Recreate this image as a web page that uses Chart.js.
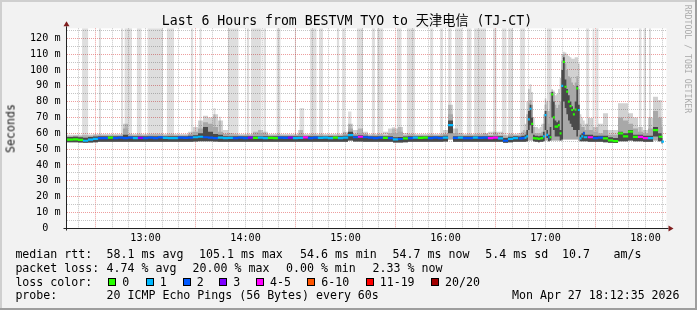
<!DOCTYPE html>
<html><head><meta charset="utf-8">
<script src="https://cdn.jsdelivr.net/npm/chart.js@4.4.1/dist/chart.umd.min.js"></script>
<style>
html,body{margin:0;padding:0;background:#f2f2f2;}
#wrap{position:relative;width:697px;height:310px;overflow:hidden;}
#c{position:absolute;left:0;top:0;}
.t{position:absolute;white-space:pre;font-family:"DejaVu Sans Mono","Noto Sans CJK SC",monospace;color:#000;}
.box{position:absolute;width:6px;height:6px;border:1px solid #000;}
</style></head>
<body><div id="wrap"><canvas id="c" width="697" height="310"></canvas></div>
<script>
// ---------------- DATA (minutes after 12:00) ----------------
const sampleMinutes = [
  12.6, 15, 18, 21, 24, 27, 30, 33, 36, 39, 42,
  45, 48, 51, 54, 57, 60, 63, 66, 69, 72,
  75, 78, 81, 84, 87, 90, 93, 96, 99, 102,
  105, 108, 111, 114, 117, 120, 123, 126, 129, 132,
  135, 138, 141, 144, 147, 150, 153, 156, 159, 162,
  165, 168, 171, 174, 177, 180, 183, 186, 189, 192,
  195, 198, 201, 204, 207, 210, 213, 216, 219, 222,
  225, 228, 231, 234, 237, 240, 243, 246, 249, 252,
  255, 258, 261, 264, 267, 270, 273, 276, 279, 282,
  285, 286, 287, 288, 289, 290, 291, 292, 293, 294, 295,
  296, 297, 298, 299, 300, 301, 302, 303, 304, 305,
  306, 307, 308, 309, 310, 311, 312, 313, 314, 315,
  316, 317, 318, 319, 320, 321, 322, 323, 324,
  327, 330, 333, 336, 339, 342, 345, 348, 351, 354, 357, 360, 363, 366, 369, 370.3
];
// median rtt (ms)
const medianRtt = [
  56.0, 56.0, 56.2, 55.8, 55.3, 56.0, 56.5, 57.0, 57.0, 57.2, 57.0,
  57.2, 56.9, 57.3, 57.0, 57.1, 56.9, 57.2, 57.0, 57.4, 57.1,
  57.0, 56.9, 57.2, 57.1, 57.3, 57.5, 57.8, 57.5, 57.2, 57.0,
  57.3, 57.0, 57.1, 56.9, 57.2, 57.0, 57.3, 57.1, 57.2, 56.9,
  57.1, 57.0, 57.3, 57.1, 57.2, 56.9, 57.1, 57.4, 57.0, 57.2,
  57.1, 57.3, 57.0, 57.2, 57.0, 57.3, 58.9, 57.5, 57.8, 57.5,
  57.2, 57.0, 57.3, 57.1, 56.9, 56.2, 56.4, 56.8, 57.0, 57.2,
  57.1, 57.2, 56.9, 57.2, 57.0, 57.3, 65.2, 57.1, 57.2, 56.9,
  57.0, 57.3, 57.1, 57.2, 57.0, 57.2, 56.8, 55.3, 56.5, 57.0,
  56.8, 57.0, 57.0, 57.3, 58.0, 68.8, 75.5, 66.0, 57.0, 56.8, 56.8,
  56.5, 56.7, 57.0, 58.0, 71.5, 59.0, 57.5, 57.5, 84.6, 70.0,
  64.2, 64.2, 65.2, 60.0, 90.0, 105.1, 89.4, 86.3, 80.0, 77.2,
  74.7, 72.0, 75.0, 88.4, 74.7, 56.8, 58.0, 60.0, 57.5,
  57.5, 57.0, 57.2, 56.8, 55.5, 55.0, 60.0, 58.0, 61.0, 57.7, 57.7, 57.0, 57.0, 62.0, 57.8, 54.7
];
// loss class index per sample (0 = "0", 1 = "1", 2 = "2", 3 = "3", 4 = "4-5", ...)
const lossClass = [
  0, 0, 0, 0, 1, 1, 1, 2, 2, 0, 2,
  2, 2, 2, 1, 3, 2, 2, 2, 2, 1,
  1, 1, 2, 2, 2, 1, 1, 2, 2, 2,
  1, 1, 1, 2, 2, 2, 3, 0, 1, 1,
  0, 0, 2, 2, 3, 1, 1, 4, 2, 2,
  1, 1, 1, 0, 1, 1, 1, 2, 4, 2,
  2, 2, 2, 0, 2, 1, 2, 0, 2, 1,
  0, 0, 2, 2, 2, 1, 1, 2, 1, 2,
  2, 1, 2, 2, 4, 4, 1, 2, 1, 1,
  2, 2, 2, 1, 1, 1, 1, 0, 0, 0, 0,
  0, 0, 0, 1, 1, 1, 2, 0, 0, 0,
  0, 0, 0, 0, 1, 0, 0, 0, 0, 0,
  0, 0, 0, 0, 1, 1, 1, 2, 1,
  4, 2, 2, 0, 0, 0, 0, 0, 0, 0, 4, 4, 1, 0, 0, 1
];
// smoke: lowest ping, bottom of dense core, top of dense core, middle band top, outer band top (ms)
const smokeLow = [
  54.4, 54.4, 54.4, 54.2, 54.0, 54.2, 54.4, 54.6, 54.6, 54.6, 54.6,
  54.6, 54.6, 54.6, 54.6, 54.6, 54.6, 54.6, 54.6, 54.6, 54.6,
  54.6, 54.6, 54.6, 54.6, 54.6, 54.8, 55.0, 55.0, 55.0, 54.8,
  54.6, 54.6, 54.6, 54.6, 54.6, 54.6, 54.6, 54.6, 54.6, 54.6,
  54.6, 54.6, 54.6, 54.6, 54.6, 54.6, 54.6, 54.6, 54.6, 54.6,
  54.6, 54.6, 54.6, 54.6, 54.6, 54.6, 55.5, 54.8, 54.8, 54.6,
  54.6, 54.6, 54.6, 54.6, 54.6, 54.2, 54.2, 54.4, 54.6, 54.6,
  54.6, 54.6, 54.6, 54.6, 54.6, 54.8, 56.0, 54.6, 54.6, 54.6,
  54.6, 54.6, 54.6, 54.6, 54.6, 54.6, 54.6, 54.0, 54.4, 54.6,
  54.6, 54.6, 54.6, 54.6, 55.0, 55.5, 55.5, 55.5, 55.0, 54.6, 54.6,
  54.4, 54.6, 54.6, 55.0, 55.5, 55.5, 55.0, 55.5, 55.5, 55.5,
  55.5, 55.5, 55.5, 55.5, 55.5, 56.0, 56.0, 56.0, 56.0, 56.0,
  56.0, 56.0, 56.0, 56.0, 55.5, 55.0, 55.0, 55.0, 55.0,
  54.6, 54.6, 54.6, 54.4, 54.0, 53.8, 55.0, 55.0, 55.5, 55.0, 55.0, 54.6, 54.6, 55.5, 55.0, 53.5
];
const smokeCoreBase = [
  54.4, 54.4, 54.4, 54.2, 54.0, 54.2, 54.4, 54.6, 54.6, 54.6, 54.6,
  54.6, 54.6, 54.6, 54.6, 54.6, 54.6, 54.6, 54.6, 54.6, 54.6,
  54.6, 54.6, 54.6, 54.6, 54.6, 54.8, 55.0, 55.0, 55.0, 54.8,
  54.6, 54.6, 54.6, 54.6, 54.6, 54.6, 54.6, 54.6, 54.6, 54.6,
  54.6, 54.6, 54.6, 54.6, 54.6, 54.6, 54.6, 54.6, 54.6, 54.6,
  54.6, 54.6, 54.6, 54.6, 54.6, 54.6, 55.5, 54.8, 54.8, 54.6,
  54.6, 54.6, 54.6, 54.6, 54.6, 54.2, 54.2, 54.4, 54.6, 54.6,
  54.6, 54.6, 54.6, 54.6, 54.6, 54.8, 60.0, 54.6, 54.6, 54.6,
  54.6, 54.6, 54.6, 54.6, 54.6, 54.6, 54.6, 54.0, 54.4, 54.6,
  54.6, 54.6, 54.6, 54.6, 55.0, 62.0, 65.0, 60.0, 55.0, 54.6, 54.6,
  54.4, 54.6, 54.6, 55.0, 62.0, 57.0, 55.0, 55.5, 70.0, 62.0,
  58.0, 58.0, 58.0, 55.5, 56.0, 80.0, 76.0, 72.0, 68.0, 66.0,
  64.0, 62.0, 62.0, 58.0, 62.0, 55.0, 55.0, 55.0, 55.0,
  54.6, 54.6, 54.6, 54.4, 54.0, 53.8, 55.0, 55.0, 55.5, 55.0, 55.0, 54.6, 54.6, 58.0, 55.0, 53.5
];
const smokeCore = [
  57.6, 57.6, 57.8, 57.5, 57.2, 57.6, 58.0, 58.2, 58.2, 58.2, 58.2,
  58.2, 59.0, 58.2, 58.2, 58.2, 58.2, 58.2, 58.2, 58.2, 58.2,
  58.2, 58.2, 58.2, 58.2, 58.5, 58.8, 60.0, 64.0, 61.0, 59.5,
  59.0, 58.2, 58.2, 58.2, 58.2, 58.2, 58.2, 58.2, 58.2, 58.2,
  58.2, 58.2, 58.2, 58.2, 58.2, 58.2, 58.2, 58.2, 58.2, 58.2,
  58.2, 58.2, 58.2, 58.2, 58.2, 58.5, 61.0, 58.5, 58.8, 58.5,
  58.2, 58.2, 58.2, 58.2, 58.2, 57.5, 57.6, 58.0, 58.2, 58.2,
  58.2, 58.2, 58.2, 58.2, 58.2, 58.5, 68.0, 58.2, 58.2, 58.2,
  58.2, 58.2, 58.2, 58.2, 58.2, 58.2, 58.2, 57.0, 57.8, 58.2,
  58.0, 58.5, 58.5, 59.0, 62.0, 74.0, 78.0, 70.0, 59.0, 58.5, 58.5,
  58.2, 58.5, 58.5, 61.0, 74.0, 62.0, 59.0, 64.0, 86.0, 80.0,
  68.0, 67.0, 68.0, 62.0, 100.0, 108.0, 94.0, 88.0, 84.0, 80.0,
  77.0, 75.0, 80.0, 90.0, 78.0, 59.0, 60.0, 61.0, 59.0,
  59.0, 58.5, 58.5, 58.5, 57.5, 57.0, 61.0, 60.0, 62.0, 59.0, 59.0, 58.5, 58.5, 64.0, 60.0, 57.0
];
const smokeMid = [
  58.2, 58.2, 58.4, 58.2, 58.0, 58.4, 58.8, 58.8, 58.8, 58.8, 58.8,
  58.8, 63.0, 58.8, 58.8, 58.8, 58.8, 58.8, 58.8, 58.8, 58.8,
  58.8, 58.8, 58.8, 58.8, 59.5, 61.0, 63.0, 67.0, 66.0, 64.0,
  61.0, 59.5, 58.8, 58.8, 58.8, 58.8, 58.8, 59.5, 60.0, 59.5,
  58.8, 58.8, 58.8, 58.8, 58.8, 58.8, 59.5, 58.8, 58.8, 58.8,
  58.8, 58.8, 58.8, 58.8, 58.8, 59.5, 63.0, 59.5, 60.0, 59.5,
  58.8, 58.8, 58.8, 58.8, 60.0, 60.0, 61.0, 58.8, 58.8, 58.8,
  58.8, 58.8, 58.8, 58.8, 58.8, 59.5, 72.0, 60.0, 58.8, 58.8,
  58.8, 58.8, 58.8, 59.5, 58.8, 59.5, 58.8, 58.0, 58.8, 58.8,
  58.8, 59.5, 59.5, 61.0, 72.0, 79.0, 81.0, 78.0, 64.0, 60.0, 60.0,
  60.0, 60.0, 61.0, 66.0, 78.0, 74.0, 66.0, 80.0, 87.0, 86.0,
  78.0, 76.0, 78.0, 80.0, 106.0, 110.0, 104.0, 100.0, 96.0, 95.0,
  92.0, 90.0, 92.0, 96.0, 88.0, 66.0, 64.0, 64.0, 62.0,
  62.0, 61.0, 60.0, 62.0, 59.0, 59.0, 70.0, 68.0, 66.0, 63.0, 61.0, 60.0, 63.0, 74.0, 70.0, 64.0
];
const smokeOuter = [
  59.0, 59.0, 59.0, 59.0, 59.0, 59.2, 59.6, 59.6, 59.6, 59.6, 59.6,
  59.6, 66.0, 59.6, 59.6, 59.6, 59.6, 59.6, 59.6, 59.6, 59.6,
  59.6, 59.6, 59.6, 59.6, 61.0, 64.0, 68.0, 71.0, 70.0, 72.0,
  68.0, 62.0, 60.0, 59.6, 59.6, 59.6, 59.6, 61.0, 62.0, 61.0,
  59.6, 59.6, 59.6, 59.6, 59.6, 59.6, 62.0, 59.6, 59.6, 59.6,
  59.6, 59.6, 59.6, 59.6, 59.6, 61.0, 66.0, 62.0, 63.0, 61.0,
  59.6, 59.6, 59.6, 61.0, 63.0, 63.0, 64.0, 60.0, 59.6, 59.6,
  59.6, 59.6, 59.6, 59.6, 59.6, 62.0, 78.0, 63.0, 60.0, 59.6,
  59.6, 59.6, 59.6, 60.0, 61.0, 61.0, 61.0, 59.0, 59.6, 59.6,
  60.0, 61.0, 62.0, 66.0, 80.0, 88.0, 91.0, 86.0, 70.0, 64.0, 64.0,
  63.0, 64.0, 66.0, 72.0, 82.0, 80.0, 74.0, 86.0, 88.0, 87.0,
  84.0, 85.0, 88.0, 95.0, 110.0, 111.5, 111.0, 110.0, 109.0, 108.0,
  107.0, 107.0, 108.0, 108.0, 104.0, 72.0, 70.0, 68.0, 66.0,
  69.6, 64.0, 66.0, 72.7, 62.0, 62.0, 79.0, 79.0, 72.7, 70.0, 64.0, 62.0, 70.0, 83.0, 81.0, 70.0
];
// light-grey columns (start / end minute, top in ms)
const lossColStart = [21.9, 31.9, 45.3, 47.3, 54.7, 61.1, 72.7, 87.1, 92.3, 100.7, 103.9, 109.3, 120.7, 123.1, 130.7, 138.5, 149.5, 152.3, 158.7, 164.1, 174.7, 177.9, 181.5, 186.7, 195.7, 198.9, 207.7, 210.7, 216.7, 230.7, 236.7, 241.5, 245.7, 252.7, 257.1, 268.5, 273.7, 277.5, 284.7, 300.7, 324.3, 328.1, 330.3, 355.9, 358.7, 361.9];
const lossColEnd   = [25.7, 33.3, 46.7, 51.9, 57.7, 70.5, 77.1, 88.7, 93.7, 102.1, 105.3, 115.9, 122.3, 129.7, 132.3, 141.1, 150.3, 155.3, 162.7, 166.5, 176.3, 179.7, 183.7, 190.5, 197.7, 202.7, 209.7, 213.7, 221.7, 232.7, 238.5, 243.7, 249.9, 255.7, 264.3, 270.7, 276.7, 280.5, 287.7, 303.7, 326.3, 329.5, 331.9, 357.7, 360.3, 363.3];
const lossColTop   = [127, 127, 127, 127, 127, 127, 127, 127, 127, 76, 70.5, 127, 127, 127, 127, 127, 127, 76, 127, 127, 127, 127, 73.7, 127, 127, 127, 64, 127, 127, 127, 127, 127, 127, 127, 127, 127, 127, 127, 127, 127, 127, 127, 127, 127, 127, 127];

const hourLabels = ['13:00', '14:00', '15:00', '16:00', '17:00', '18:00'];
const yLabels = ['0', '10 m', '20 m', '30 m', '40 m', '50 m', '60 m', '70 m', '80 m', '90 m', '100 m', '110 m', '120 m'];
const lossClassLabels = ['0', '1', '2', '3', '4-5', '6-10', '11-19', '20/20'];
const statMedian = ['58.1 ms avg', '105.1 ms max', '54.6 ms min', '54.7 ms now', '5.4 ms sd', '10.7', 'am/s'];
const statLoss = ['4.74 % avg', '20.00 % max', '0.00 % min', '2.33 % now'];
const probeText = '20 ICMP Echo Pings (56 Bytes) every 60s';
const stampText = 'Mon Apr 27 18:12:35 2026';
const titleText = 'Last 6 Hours from BESTVM TYO to 天津电信 (TJ-CT)';

// ---------------- STYLE / LAYOUT ----------------
const LOSS_COLORS = ['#26ff00', '#00b8ff', '#0059ff', '#7e00ff', '#ff00ff', '#ff5500', '#ff0000', '#a10000'];
const X_MIN = 12 + 35 / 60, X_MAX = X_MIN + 360;
const Y_MAX = 126.3;
const COL_BASE = 56;
const MINOR = 'rgba(150,150,150,0.55)';
const MAJOR = 'rgba(222,79,79,0.55)';
const FONT = 'DejaVu Sans Mono';

const pts = arr => sampleMinutes.map((t, i) => ({x: t, y: arr[i]}));
const colPts = [];
lossColStart.forEach((s, i) => {
  colPts.push({x: s, y: lossColTop[i]}, {x: lossColEnd[i], y: lossColTop[i]}, {x: lossColEnd[i], y: null});
});
const hourMinutes = hourLabels.map(s => (parseInt(s.slice(0, 2)) - 12) * 60 + parseInt(s.slice(3)));

function dashRadius(c) {
  const i = c.dataIndex, n = sampleMinutes.length, xs = c.chart.scales.x;
  const l = i > 0 ? sampleMinutes[i] - sampleMinutes[i - 1] : sampleMinutes[1] - sampleMinutes[0];
  const r = i < n - 1 ? sampleMinutes[i + 1] - sampleMinutes[i] : l;
  const ppm = xs.width / (xs.max - xs.min);
  return (l + r) / 4 * ppm + 0.15;
}

const framePlugin = {
  id: 'frame',
  beforeDraw(chart) {
    const {ctx, chartArea: a} = chart;
    ctx.save();
    ctx.fillStyle = '#f2f2f2'; ctx.fillRect(0, 0, 697, 310);
    ctx.fillStyle = '#cfcfcf'; ctx.fillRect(0, 0, 697, 2); ctx.fillRect(0, 0, 2, 310);
    ctx.fillStyle = '#9e9e9e'; ctx.fillRect(0, 308, 697, 2); ctx.fillRect(695, 0, 2, 310);
    ctx.fillStyle = '#ffffff'; ctx.fillRect(a.left, a.top, a.right - a.left, a.bottom - a.top);
    ctx.restore();
  },
  afterDraw(chart) {
    const {ctx, chartArea: a} = chart;
    const xa = Math.floor(a.left) + 0.5, ya = Math.floor(a.bottom) + 0.5;
    ctx.save();
    ctx.strokeStyle = '#222'; ctx.lineWidth = 1;
    ctx.beginPath(); ctx.moveTo(xa, ya + 2); ctx.lineTo(xa, a.top - 2); ctx.stroke();
    ctx.beginPath(); ctx.moveTo(xa - 3, ya); ctx.lineTo(a.right + 2, ya); ctx.stroke();
    ctx.fillStyle = '#801f1f';
    ctx.beginPath(); ctx.moveTo(xa - 3, a.top - 2); ctx.lineTo(xa + 3, a.top - 2); ctx.lineTo(xa, a.top - 7); ctx.closePath(); ctx.fill();
    ctx.beginPath(); ctx.moveTo(a.right + 2, ya - 3); ctx.lineTo(a.right + 2, ya + 3); ctx.lineTo(a.right + 7, ya); ctx.closePath(); ctx.fill();
    ctx.restore();
  }
};

new Chart(document.getElementById('c'), {
  type: 'line',
  data: {
    datasets: [
      {label: 'columns', data: colPts, fill: {value: COL_BASE}, backgroundColor: 'rgba(0,0,0,0.13)', borderWidth: 0, pointRadius: 0, spanGaps: false, order: 7},
      {label: 'low', data: pts(smokeLow), stepped: 'middle', borderWidth: 0, pointRadius: 0, fill: false, order: 6},
      {label: 'coreBase', data: pts(smokeCoreBase), stepped: 'middle', borderWidth: 0, pointRadius: 0, fill: false, order: 6},
      {label: 'outer', data: pts(smokeOuter), stepped: 'middle', fill: 1, backgroundColor: 'rgba(0,0,0,0.18)', borderWidth: 0, pointRadius: 0, order: 4},
      {label: 'mid', data: pts(smokeMid), stepped: 'middle', fill: 1, backgroundColor: '#a8a8a8', borderWidth: 0, pointRadius: 0, order: 3},
      {label: 'core', data: pts(smokeCore), stepped: 'middle', fill: 2, backgroundColor: '#4a4a4a', borderWidth: 0, pointRadius: 0, order: 2},
      {label: 'median', data: pts(medianRtt), showLine: false, pointStyle: 'line', clip: 0,
       pointRadius: dashRadius, pointHoverRadius: dashRadius, pointBorderWidth: 2.2, pointHoverBorderWidth: 2.2,
       pointBorderColor: c => LOSS_COLORS[lossClass[c.dataIndex]], pointBackgroundColor: c => LOSS_COLORS[lossClass[c.dataIndex]], order: 1}
    ]
  },
  options: {
    responsive: false, animation: false, devicePixelRatio: 1, events: [],
    layout: {padding: {left: 0, right: 30.5, top: 28.3, bottom: 0}},
    plugins: {legend: {display: false}, tooltip: {enabled: false}, title: {display: false}},
    scales: {
      x: {
        type: 'linear', min: X_MIN, max: X_MAX,
        afterFit(s) { s.height = 81.7; },
        afterBuildTicks(s) { const t = []; for (let m = Math.ceil(X_MIN / 10) * 10; m <= X_MAX; m += 10) t.push({value: m}); s.ticks = t; },
        grid: {color: c => (c.tick && c.tick.value % 60 === 30) ? MAJOR : MINOR, lineWidth: 1, drawTicks: false},
        border: {display: false, dash: [1, 1]},
        ticks: {autoSkip: false, maxRotation: 0, minRotation: 0, padding: 4, color: '#000', font: {family: FONT, size: 10.15},
          callback: v => { const i = hourMinutes.indexOf(v); return i >= 0 ? hourLabels[i] : ''; }}
      },
      y: {
        type: 'linear', min: 0, max: Y_MAX,
        afterFit(s) { s.width = 66.5; },
        afterBuildTicks(s) { const t = []; for (let v = 0; v <= Y_MAX; v += 5) t.push({value: v}); s.ticks = t; },
        grid: {color: c => { const v = c.tick ? c.tick.value : 0; return v === 0 ? 'rgba(0,0,0,0)' : (v % 10 === 0 ? MAJOR : MINOR); }, lineWidth: 1, drawTicks: false},
        border: {display: false, dash: [1, 1]},
        ticks: {autoSkip: false, padding: 6, color: '#000', font: {family: FONT, size: 10.15},
          callback: v => { if (v % 10 !== 0) return ''; const l = yLabels[v / 10]; return l.includes(' ') ? l : l + '  '; }}
      }
    }
  },
  plugins: [framePlugin]
});

// ---------------- TEXT (HTML) ----------------
const wrap = document.getElementById('wrap');
function addText(str, x, baseline, size, opts = {}) {
  const d = document.createElement('div');
  d.className = 't';
  const lh = Math.round(size * 1.25);
  d.style.fontSize = size + 'px';
  d.style.lineHeight = lh + 'px';
  d.style.left = x + 'px';
  d.style.top = (baseline - lh / 2 - 0.346 * size) + 'px';
  if (opts.color) d.style.color = opts.color;
  d.textContent = str;
  wrap.appendChild(d);
  return d;
}
function addRotated(str, cx, cy, size, deg, color) {
  const d = document.createElement('div');
  d.className = 't';
  const lh = Math.round(size * 1.25), w = 200;
  d.style.fontSize = size + 'px'; d.style.lineHeight = lh + 'px';
  d.style.width = w + 'px'; d.style.textAlign = 'center';
  d.style.left = (cx - w / 2) + 'px'; d.style.top = (cy - lh / 2) + 'px';
  d.style.transform = 'rotate(' + deg + 'deg)';
  if (color) d.style.color = color;
  d.textContent = str;
  wrap.appendChild(d);
}
addText(titleText, 161.8, 25, 13.2);
addRotated('Seconds', 11, 128, 11.6, -90, '#222');
addRotated('RRDTOOL / TOBI OETIKER', 687.8, 59, 8.2, 90, '#ababab');

const LEG = 11.6;
const lineBase = [258.3, 272.3, 286.3, 299.7];
addText('median rtt:', 15.4, lineBase[0], LEG);
[106.6, 199.1, 300.0, 392.6, 485.3, 562.1, 613.6].forEach((x, i) => addText(statMedian[i], x, lineBase[0], LEG));
addText('packet loss:', 15.4, lineBase[1], LEG);
[106.6, 192.6, 286.0, 372.6].forEach((x, i) => addText(statLoss[i], x, lineBase[1], LEG));
addText('loss color:', 15.4, lineBase[2], LEG);
[108.3, 145.7, 182.7, 219.3, 256, 307.3, 365.7, 431].forEach((x, i) => {
  const b = document.createElement('div');
  b.className = 'box';
  b.style.left = x + 'px'; b.style.top = '278.3px';
  b.style.background = LOSS_COLORS[i];
  wrap.appendChild(b);
  addText(lossClassLabels[i], x + 14, lineBase[2], LEG);
});
addText('probe:', 15.4, lineBase[3], LEG);
addText(probeText, 106.6, lineBase[3], LEG);
addText(stampText, 512.0, lineBase[3], LEG);
</script></body></html>
